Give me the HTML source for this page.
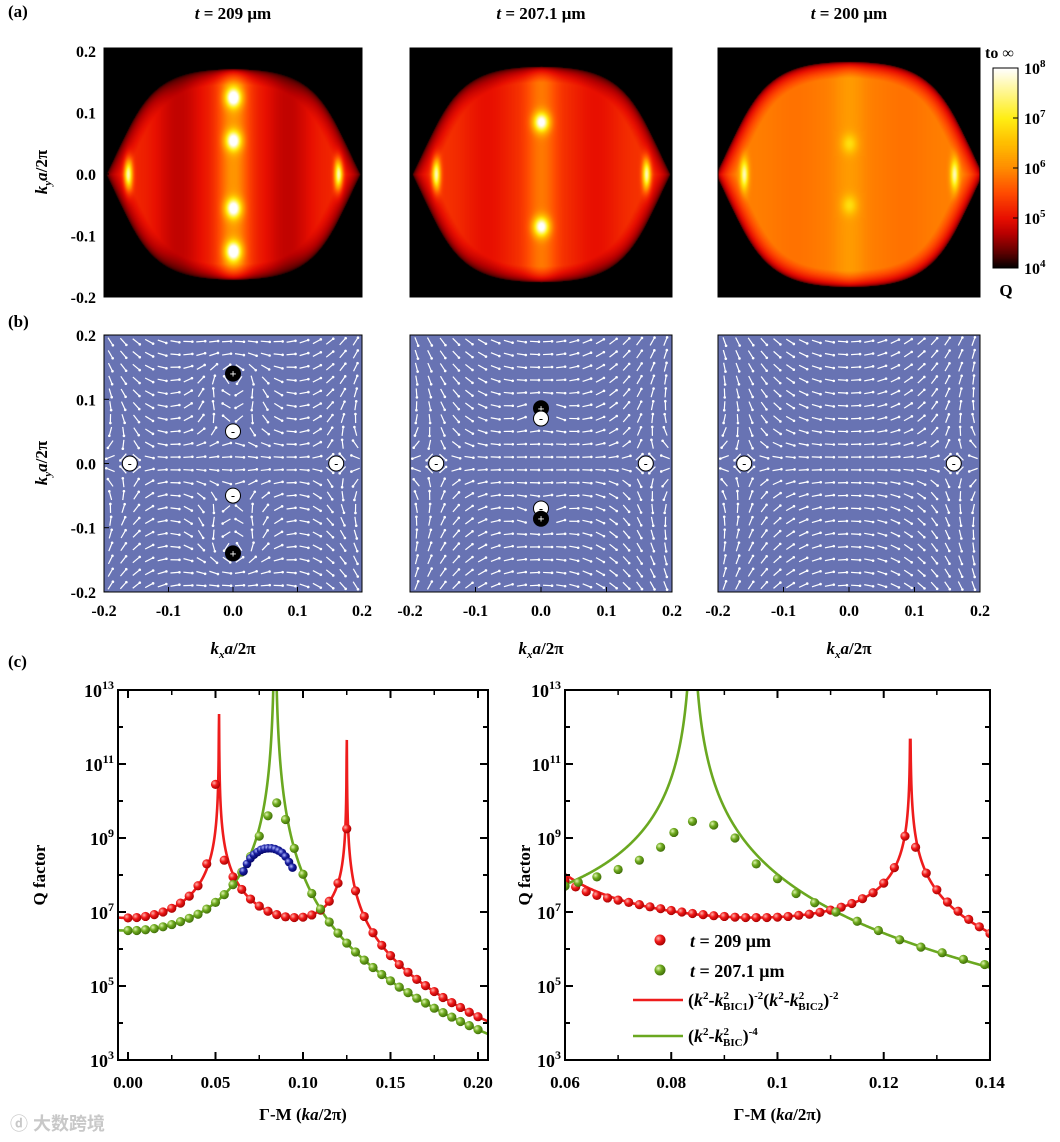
<!DOCTYPE html>
<html><head><meta charset="utf-8">
<style>
body{margin:0;background:#fff;}
#root{position:relative;width:1060px;height:1142px;overflow:hidden;background:#fff;font-family:"Liberation Serif",serif;}
canvas{position:absolute;}
svg{position:absolute;left:0;top:0;}
text{font-family:"Liberation Serif",serif;font-weight:bold;fill:#000;}
</style></head>
<body>
<div id="root">
<canvas id="h0" width="258" height="249" style="left:104px;top:48px"></canvas>
<canvas id="h1" width="262" height="249" style="left:410px;top:48px"></canvas>
<canvas id="h2" width="262" height="249" style="left:718px;top:48px"></canvas>
<canvas id="cb" width="25" height="200" style="left:993px;top:68px"></canvas>
<svg id="s" width="1060" height="1142" xmlns="http://www.w3.org/2000/svg">
<defs>
<radialGradient id="gr" cx="0.35" cy="0.35" r="0.7"><stop offset="0" stop-color="#ffb0a8"/><stop offset="0.45" stop-color="#f01818"/><stop offset="1" stop-color="#a00000"/></radialGradient>
<radialGradient id="gg" cx="0.35" cy="0.35" r="0.7"><stop offset="0" stop-color="#e0f5b0"/><stop offset="0.45" stop-color="#6eaa1e"/><stop offset="1" stop-color="#3d6a08"/></radialGradient>
<radialGradient id="gb" cx="0.35" cy="0.35" r="0.7"><stop offset="0" stop-color="#b0b8ff"/><stop offset="0.45" stop-color="#1a20a0"/><stop offset="1" stop-color="#000060"/></radialGradient>
</defs>
</svg>
</div>
<script>
// ---------- DATA ----------
const heatTitles = ["209 μm","207.1 μm","200 μm"];
const leftK = [0,0.005,0.01,0.015,0.02,0.025,0.03,0.035,0.04,0.045,0.05,0.055,0.06,0.065,0.07,0.075,0.08,0.085,0.09,0.095,0.1,0.105,0.11,0.115,0.12,0.125,0.13,0.135,0.14,0.145,0.15,0.155,0.16,0.165,0.17,0.175,0.18,0.185,0.19,0.195,0.2];
const leftRed = [6.84,6.85,6.88,6.93,7.0,7.1,7.24,7.43,7.71,8.3,10.45,8.4,7.95,7.61,7.35,7.16,7.02,6.93,6.87,6.85,6.86,6.92,7.05,7.29,7.78,9.25,7.57,6.88,6.44,6.1,5.82,5.58,5.37,5.18,5.01,4.85,4.69,4.55,4.42,4.29,4.17];
const leftGreen = [6.5,6.5,6.52,6.55,6.6,6.66,6.74,6.83,6.94,7.08,7.26,7.47,7.74,8.08,8.5,9.05,9.6,9.95,9.5,8.72,8.02,7.5,7.08,6.73,6.43,6.16,5.92,5.7,5.5,5.31,5.14,4.97,4.82,4.67,4.54,4.4,4.28,4.16,4.04,3.93,3.82];
const blueK = [0.066,0.068,0.07,0.072,0.074,0.076,0.078,0.08,0.082,0.084,0.086,0.088,0.09,0.092,0.094];
const blueQ = [8.1,8.3,8.45,8.55,8.62,8.68,8.71,8.72,8.72,8.7,8.66,8.6,8.5,8.35,8.2];
const rightRedK = [0.06,0.062,0.064,0.066,0.068,0.07,0.072,0.074,0.076,0.078,0.08,0.082,0.084,0.086,0.088,0.09,0.092,0.094,0.096,0.098,0.1,0.102,0.104,0.106,0.108,0.11,0.112,0.114,0.116,0.118,0.12,0.122,0.124,0.126,0.128,0.13,0.132,0.134,0.136,0.138,0.14];
const rightRedQ = [7.85,7.68,7.55,7.45,7.38,7.32,7.26,7.2,7.14,7.09,7.04,7.0,6.96,6.93,6.9,6.88,6.86,6.85,6.85,6.85,6.86,6.88,6.91,6.94,6.99,7.05,7.13,7.23,7.36,7.52,7.78,8.2,9.05,8.75,8.05,7.6,7.27,7.02,6.8,6.6,6.42];
const rightGreenK = [0.06,0.0625,0.066,0.07,0.074,0.078,0.0805,0.084,0.088,0.092,0.096,0.1,0.1035,0.107,0.111,0.115,0.119,0.123,0.127,0.131,0.135,0.139];
const rightGreenQ = [7.7,7.8,7.95,8.15,8.4,8.75,9.15,9.45,9.35,9.0,8.3,7.9,7.5,7.25,7.0,6.75,6.5,6.25,6.05,5.9,5.72,5.58];
const kBIC = [0.052,0.125];
const redAmp = [0.0123];
const redPeakMax = [12.35,11.65];
const kBICg = [0.084];
const greenAmp = [0.0078];
const yTicksC = [3,5,7,9,11,13];
const xTicksL = [0,0.05,0.1,0.15,0.2];
const xTicksR = [0.06,0.08,0.1,0.12,0.14];
const xTickLabelsR = ["0.06","0.08","0.1","0.12","0.14"];
const vort0 = [[0,0.14,1],[0,0.05,-1],[0,-0.05,-1],[0,-0.14,1],[-0.16,0,-1],[0.16,0,-1]];
const vort1 = [[0,0.086,1],[0,0.07,-1],[0,-0.07,-1],[0,-0.086,1],[-0.16,0,-1],[0.16,0,-1]];
const vort2 = [[-0.16,0,-1],[0.16,0,-1]];

const NS="http://www.w3.org/2000/svg";
const svg=document.getElementById('s');
function el(tag,attrs,parent){const e=document.createElementNS(NS,tag);for(const k in attrs)e.setAttribute(k,attrs[k]);(parent||svg).appendChild(e);return e;}
function txt(x,y,str,size,anchor,parent){const t=el('text',{x:x,y:y,'font-size':size,'text-anchor':anchor||'middle'},parent);t.innerHTML=str;return t;}

function cmap(L){
  const stops=[[4,0,0,0],[4.3,90,0,0],[4.7,185,0,0],[5,232,15,0],[5.5,255,75,0],[6,255,140,0],[6.5,255,190,0],[7,255,238,20],[8,255,255,255]];
  if(L<=4)return[0,0,0];if(L>=8)return[255,255,255];
  for(let i=0;i<stops.length-1;i++){const a=stops[i],b=stops[i+1];if(L<=b[0]){const t=(L-a[0])/(b[0]-a[0]);return[a[1]+t*(b[1]-a[1]),a[2]+t*(b[2]-a[2]),a[3]+t*(b[3]-a[3])];}}
}
const heatParams=[
 {hh:0.172,hw:0.197,sl:0.45,base:5.2,dark:0.45,stripe:0.9,spots:[[0,0.125,2.6],[0,-0.125,2.6],[0,0.055,2.4],[0,-0.055,2.4],[-0.163,0,2.5],[0.163,0,2.5]]},
 {hh:0.176,hw:0.2,sl:0.45,base:5.3,dark:0.3,stripe:0.55,spots:[[0,0.085,2.4],[0,-0.085,2.4],[-0.163,0,2.4],[0.163,0,2.4]]},
 {hh:0.184,hw:0.207,sl:0.45,base:5.9,dark:0.1,stripe:0.25,spots:[[0,0.05,0.7],[0,-0.05,0.7],[-0.163,0,1.8],[0.163,0,1.8]]}
];
['h0','h1','h2'].forEach((id,i)=>{
  const c=document.getElementById(id),ctx=c.getContext('2d');const W=c.width,H=c.height;
  const img=ctx.createImageData(W,H);const p=heatParams[i];const cx=W/2;
  for(let y=0;y<H;y++)for(let x=0;x<W;x++){
    const kx=(x-cx)/645, ky=(126-y)/615;
    const u=Math.abs(ky)/p.hh, v=(Math.abs(kx)+p.sl*Math.abs(ky))/p.hw;
    const d=Math.pow(Math.pow(u,5)+Math.pow(v,5),1/5);
    let L=p.base-p.dark*Math.exp(-Math.pow(Math.abs(kx)-0.085,2)/0.0015)+p.stripe*Math.exp(-kx*kx/0.0005);
    for(const s of p.spots){const wx=Math.abs(s[0])>0.1?0.00004:0.00015, wy=Math.abs(s[0])>0.1?0.0006:0.00025;L+=s[2]*Math.exp(-(Math.pow(kx-s[0],2)/wx+Math.pow(ky-s[1],2)/wy));}
    let f=1; if(d>0.85)f=Math.max(0,1-(d-0.85)/0.15);
    f=Math.sqrt(f);
    L=4+(L-4)*f;
    const col=cmap(L);const o=(y*W+x)*4;img.data[o]=col[0];img.data[o+1]=col[1];img.data[o+2]=col[2];img.data[o+3]=255;}
  ctx.putImageData(img,0,0);
});
(function(){const c=document.getElementById('cb'),ctx=c.getContext('2d');for(let y=0;y<200;y++){const col=cmap(8-4*y/200);ctx.fillStyle=`rgb(${col[0]|0},${col[1]|0},${col[2]|0})`;ctx.fillRect(0,y,25,1);}})();

const aX=[104,410,718], aW=[258,262,262];
txt(8,17,'(a)',17,'start');
aX.forEach((x0,i)=>{
  const g=el('g',{},svg);
  
  
  el('rect',{x:x0,y:48,width:aW[i],height:249,fill:'none',stroke:'#000','stroke-width':1},g);
  const t=txt(x0+aW[i]/2,19,'<tspan font-style="italic">t</tspan> = '+heatTitles[i],17,'middle',g);
  
  if(i===0){
    [0.2,0.1,0,-0.1,-0.2].forEach(v=>{const y=174-v*615;el('line',{x1:x0,x2:x0+5,y1:y,y2:y,stroke:'#000'},g);txt(x0-8,y+6,v.toFixed(1),16,'end',g);});
  }
});
const cbG=el('g',{},svg);


el('rect',{x:993,y:68,width:25,height:200,fill:'none',stroke:'#000'},cbG);
txt(985,58,'to ∞',16,'start',cbG);
txt(1006,296,'Q',17,'middle',cbG);
[8,7,6,5,4].forEach(p=>{const y=68+(8-p)*50;el('line',{x1:1013,x2:1018,y1:y,y2:y,stroke:'#000'},cbG);txt(1024,y+6,'10<tspan font-size="11" dy="-7">'+p+'</tspan>',16,'start',cbG);});
function ylab(x,y,html){const t=el('text',{x:x,y:y,'font-size':17,'text-anchor':'middle',transform:`rotate(-90 ${x} ${y})`});t.innerHTML=html;return t;}
ylab(47,172,'<tspan font-style="italic">k<tspan font-size="11" dy="4">y</tspan><tspan dy="-4">a</tspan></tspan>/2π');

txt(8,327,'(b)',17,'start');
const vorts=[vort0,vort1,vort2];
aX.forEach((x0,i)=>{
  const w=aW[i], cx=x0+w/2, sx=w/0.4, cy=463.5, sy=642;
  const g=el('g',{},svg);
  
  
  el('rect',{x:x0,y:335,width:w,height:257,fill:'#6873b3',stroke:'#000'},g);
  const V=vorts[i];
  for(let ky=-0.19;ky<=0.191;ky+=0.02)for(let kx=-0.19;kx<=0.191;kx+=0.02){
    let near=false;for(const s of V){if(Math.hypot(kx-s[0],ky-s[1])<0.012)near=true;}
    if(near)continue;
    let th=0;for(const s of V){th+=s[2]*Math.atan2(ky-s[1],kx-s[0]);}
    th=th+Math.PI;
    const L=4.5;
    const px=cx+kx*sx, py=cy-ky*sy, dx=L*Math.cos(th), dy=-L*Math.sin(th);
    el('line',{x1:px-dx,y1:py-dy,x2:px+dx,y2:py+dy,stroke:'#fff','stroke-width':1.2},g);
    el('circle',{cx:px+dx,cy:py+dy,r:1.3,fill:'#fff'},g);
  }
  V.forEach(s=>{const px=cx+s[0]*sx, py=cy-s[1]*sy;const pos=s[2]>0;
    const c=el('circle',{cx:px,cy:py,r:7.5,fill:pos?'#000':'#fff',stroke:'#000','stroke-width':1},g);
    
    
    const t=txt(px,py+4,pos?'+':'-',12,'middle',g);t.style.fill=pos?'#fff':'#000';});
  [-0.2,-0.1,0,0.1,0.2].forEach(v=>{const x=cx+v*sx;el('line',{x1:x,x2:x,y1:592,y2:587,stroke:'#000'},g);txt(x,616,v.toFixed(1),16,'middle',g);});
  if(i===0)[0.2,0.1,0,-0.1,-0.2].forEach(v=>{const y=cy-v*sy;el('line',{x1:x0,x2:x0+5,y1:y,y2:y,stroke:'#000'},g);txt(x0-8,y+6,v.toFixed(1),16,'end',g);});
  txt(cx,654,'<tspan font-style="italic">k<tspan font-size="11" dy="4">x</tspan><tspan dy="-4">a</tspan></tspan>/2π',17);
});
ylab(47,463,'<tspan font-style="italic">k<tspan font-size="11" dy="4">y</tspan><tspan dy="-4">a</tspan></tspan>/2π');

txt(8,667,'(c)',17,'start');
const yC=L=>1060-(L-3)*37;
function redModel(k){let L=Math.log10(redAmp[0])-2*Math.log10(Math.abs(k*k-kBIC[0]*kBIC[0]))-2*Math.log10(Math.abs(k*k-kBIC[1]*kBIC[1]));
  const m=Math.abs(k-kBIC[0])<Math.abs(k-kBIC[1])?redPeakMax[0]:redPeakMax[1];return Math.min(L,m);}
function greenModel(k){return Math.min(13.5,Math.log10(greenAmp[0])-4*Math.log10(Math.abs(k*k-kBICg[0]*kBICg[0])));}
function plot(box,xs,x0,x1,name){
  const g=el('g',{},svg);
  
  
  const cp='cp'+name;const c=el('clipPath',{id:cp},g);el('rect',{x:box[0],y:690,width:box[1]-box[0],height:370},c);
  const gc=el('g',{'clip-path':`url(#${cp})`},g);
  function line(fn,color,nm){let d='';const n=1600;for(let i=0;i<=n;i++){const k=x0+(x1-x0)*i/n;d+=(i?'L':'M')+xs(k).toFixed(2)+','+yC(fn(k)).toFixed(2);}
    const p=el('path',{d:d,fill:'none',stroke:color,'stroke-width':2.6},gc);}
  return {g,gc,line};
}
function dots(parent,K,Q,xs,fill,nm,r){K.forEach((k,i)=>{const c=el('circle',{cx:xs(k),cy:yC(Q[i]),r:r||4.6,fill:fill},parent);});}
function axes(g,box,xs,ticks,labels,minor){
  el('rect',{x:box[0],y:690,width:box[1]-box[0],height:370,fill:'none',stroke:'#000','stroke-width':2},g);
  ticks.forEach((v,i)=>{const x=xs(v);el('line',{x1:x,x2:x,y1:1060,y2:1052,stroke:'#000','stroke-width':2},g);el('line',{x1:x,x2:x,y1:690,y2:698,stroke:'#000','stroke-width':2},g);txt(x,1088,labels[i],17,'middle',g);});
  minor.forEach(v=>{const x=xs(v);el('line',{x1:x,x2:x,y1:1060,y2:1055,stroke:'#000','stroke-width':1.5},g);el('line',{x1:x,x2:x,y1:690,y2:695,stroke:'#000','stroke-width':1.5},g);});
  for(let p=3;p<=13;p++){const y=yC(p);const len=p%2?8:5;el('line',{x1:box[0],x2:box[0]+len,y1:y,y2:y,stroke:'#000','stroke-width':2},g);el('line',{x1:box[1],x2:box[1]-len,y1:y,y2:y,stroke:'#000','stroke-width':2},g);}
  yTicksC.forEach(p=>txt(box[0]-4,yC(p)+7,'10<tspan font-size="12" dy="-8">'+p+'</tspan>',18,'end',g));
  txt((box[0]+box[1])/2,1120,'Γ-M (<tspan font-style="italic">ka</tspan>/2π)',17,'middle',g);
}
const xsL=k=>128+k*1750, boxL=[118,488];
const pl=plot(boxL,xsL,-0.006,0.206,'q-factor-left');
pl.line(redModel,'#ee1c1c','red-fit-line');pl.line(greenModel,'#6aa820','green-fit-line');
dots(pl.gc,leftK,leftRed,xsL,'url(#gr)','red-dot');
dots(pl.gc,leftK,leftGreen,xsL,'url(#gg)','green-dot');
dots(pl.gc,blueK,blueQ,xsL,'url(#gb)','blue-dot',4.3);
axes(pl.g,boxL,xsL,xTicksL,["0.00","0.05","0.10","0.15","0.20"],[0.025,0.075,0.125,0.175]);
ylab(45,875,'Q factor');
const xsR=k=>565+(k-0.06)*5312, boxR=[565,990];
const pr=plot(boxR,xsR,0.06,0.14,'q-factor-right');
pr.line(redModel,'#ee1c1c','red-fit-line');pr.line(greenModel,'#6aa820','green-fit-line');
dots(pr.gc,rightRedK,rightRedQ,xsR,'url(#gr)','red-dot');
dots(pr.gc,rightGreenK,rightGreenQ,xsR,'url(#gg)','green-dot');
axes(pr.g,boxR,xsR,xTicksR,xTickLabelsR,[0.07,0.09,0.11,0.13]);
ylab(530,875,'Q factor');
const lg=el('g',{},svg);


el('circle',{cx:660,cy:940,r:5.5,fill:'url(#gr)'},lg);txt(690,947,'<tspan font-style="italic">t</tspan> = 209 μm',18,'start',lg);
el('circle',{cx:660,cy:970,r:5.5,fill:'url(#gg)'},lg);txt(690,977,'<tspan font-style="italic">t</tspan> = 207.1 μm',18,'start',lg);
el('line',{x1:633,x2:683,y1:1000,y2:1000,stroke:'#ee1c1c','stroke-width':2.6},lg);
txt(688,1006,'(<tspan font-style="italic">k</tspan><tspan font-size="11" dy="-7">2</tspan><tspan dy="7">-</tspan><tspan font-style="italic">k</tspan><tspan font-size="11" dy="-7">2</tspan><tspan font-size="11" dx="-6" dy="11">BIC1</tspan><tspan dy="-4">)</tspan><tspan font-size="11" dy="-7">-2</tspan><tspan dy="7">(</tspan><tspan font-style="italic">k</tspan><tspan font-size="11" dy="-7">2</tspan><tspan dy="7">-</tspan><tspan font-style="italic">k</tspan><tspan font-size="11" dy="-7">2</tspan><tspan font-size="11" dx="-6" dy="11">BIC2</tspan><tspan dy="-4">)</tspan><tspan font-size="11" dy="-7">-2</tspan>',18,'start',lg);
el('line',{x1:633,x2:683,y1:1036,y2:1036,stroke:'#6aa820','stroke-width':2.6},lg);
txt(688,1042,'(<tspan font-style="italic">k</tspan><tspan font-size="11" dy="-7">2</tspan><tspan dy="7">-</tspan><tspan font-style="italic">k</tspan><tspan font-size="11" dy="-7">2</tspan><tspan font-size="11" dx="-6" dy="11">BIC</tspan><tspan dy="-4">)</tspan><tspan font-size="11" dy="-7">-4</tspan>',18,'start',lg);
const wm=txt(10,1130,'ⓓ 大数跨境',18,'start');
wm.setAttribute('style','fill:#c8c8c8;font-family:"Liberation Sans","Noto Sans CJK SC",sans-serif');


</script>
</body></html>
